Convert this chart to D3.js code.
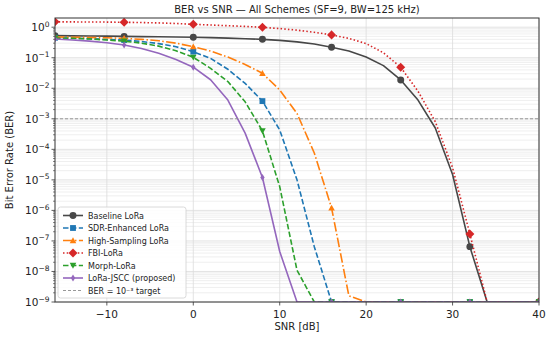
<!DOCTYPE html>
<html>
<head>
<meta charset="utf-8">
<script src="https://cdn.jsdelivr.net/npm/d3@7"></script>
<style>
  body { margin: 0; background: #fff; }
  svg { font-family: "DejaVu Sans", sans-serif; }
</style>
</head>
<body>
<svg id="chart" width="550" height="339"></svg>
<script>
// SNR points (dB)
const snr = [-16, -14, -12, -10, -8, -6, -4, -2, 0, 2, 4, 6, 8, 10, 12, 14, 16, 18, 20, 22, 24, 26, 28, 30, 32, 34, 36, 38, 40];

const baseline = [0.53, 0.52, 0.515, 0.51, 0.50, 0.49, 0.485, 0.475, 0.47, 0.455, 0.44, 0.42, 0.40, 0.37, 0.33, 0.28, 0.22, 0.165, 0.105, 0.055, 0.0187, 4.1e-3, 5e-4, 1.5e-5, 6.5e-8, 1e-9, 1e-9, 1e-9, 1e-9];
const sdr = [0.45, 0.44, 0.42, 0.40, 0.38, 0.34, 0.29, 0.23, 0.158, 0.095, 0.042, 0.0145, 3.8e-3, 4.3e-4, 1e-5, 6.5e-8, 1e-9, 1e-9, 1e-9, 1e-9, 1e-9, 1e-9, 1e-9, 1e-9, 1e-9, 1e-9, 1e-9, 1e-9, 1e-9];
const highSampling = [0.48, 0.47, 0.46, 0.45, 0.43, 0.40, 0.36, 0.30, 0.23, 0.165, 0.105, 0.06, 0.031, 8.8e-3, 1.5e-3, 7.6e-5, 1.2e-6, 1.6e-9, 1e-9, 1e-9, 1e-9, 1e-9, 1e-9, 1e-9, 1e-9, 1e-9, 1e-9, 1e-9, 1e-9];
const fbi = [1.5, 1.49, 1.48, 1.47, 1.45, 1.42, 1.38, 1.32, 1.24, 1.18, 1.12, 1.06, 0.99, 0.9, 0.8, 0.68, 0.56, 0.43, 0.29, 0.145, 0.049, 8e-3, 8e-4, 2.5e-5, 1.7e-7, 1e-9, 1e-9, 1e-9, 1e-9];
const morph = [0.44, 0.43, 0.41, 0.38, 0.35, 0.30, 0.24, 0.17, 0.103, 0.045, 0.0166, 3.6e-3, 4e-4, 6e-6, 1.1e-8, 1e-9, 1e-9, 1e-9, 1e-9, 1e-9, 1e-9, 1e-9, 1e-9, 1e-9, 1e-9, 1e-9, 1e-9, 1e-9, 1e-9];
const jscc = [0.41, 0.38, 0.35, 0.31, 0.26, 0.20, 0.14, 0.088, 0.049, 0.019, 4.1e-3, 3.4e-4, 1.2e-5, 4.5e-8, 1e-9, 1e-9, 1e-9, 1e-9, 1e-9, 1e-9, 1e-9, 1e-9, 1e-9, 1e-9, 1e-9, 1e-9, 1e-9, 1e-9, 1e-9];

const seriesNames = ["Baseline LoRa", "SDR-Enhanced LoRa", "High-Sampling LoRa", "FBI-LoRa", "Morph-LoRa", "LoRa-JSCC (proposed)"];
const seriesValues = [baseline, sdr, highSampling, fbi, morph, jscc];
const targetBer = 1e-3;

const xTicks = [-10, 0, 10, 20, 30, 40];
const yExponents = [0, -1, -2, -3, -4, -5, -6, -7, -8, -9];

const styles = [
  { color: "#474747", dash: null, marker: "circle", size: 38 },
  { color: "#1f77b4", dash: "5.5,2.4", marker: "square", size: 34 },
  { color: "#ff7f0e", dash: "9.6,2.4,1.5,2.4", marker: "triUp", size: 30 },
  { color: "#d62728", dash: "1.5,2.2", marker: "diamond", size: 52 },
  { color: "#2ca02c", dash: "5.5,2.4", marker: "triDown", size: 30 },
  { color: "#9467bd", dash: null, marker: "thinDiamond", size: 34 }
];

const W = 550, H = 339;
const margin = { top: 18, right: 11, bottom: 37, left: 55 };
const width = W - margin.left - margin.right,
      height = H - margin.top - margin.bottom;

const svg = d3.select("#chart");
const g = svg.append("g").attr("transform", "translate(" + margin.left + "," + margin.top + ")");

const x = d3.scaleLinear().domain([-16, 40]).range([0, width]);
const y = d3.scaleLog().domain([1e-9, 2]).range([height, 0]);

// grid
const minorVals = [];
for (let e = -9; e <= 0; e++) {
  for (let m = 2; m <= 9; m++) {
    const v = m * Math.pow(10, e);
    if (v < 2) minorVals.push(v);
  }
}
g.append("g").selectAll("line").data(minorVals).join("line")
  .attr("x1", 0).attr("x2", width)
  .attr("y1", d => y(d)).attr("y2", d => y(d))
  .attr("stroke", "#e8e8e8").attr("stroke-width", 0.7);
g.append("g").selectAll("line").data(yExponents).join("line")
  .attr("x1", 0).attr("x2", width)
  .attr("y1", d => y(Math.pow(10, d))).attr("y2", d => y(Math.pow(10, d)))
  .attr("stroke", "#dcdcdc").attr("stroke-width", 0.8);
g.append("g").selectAll("line").data(xTicks).join("line")
  .attr("x1", d => x(d)).attr("x2", d => x(d))
  .attr("y1", 0).attr("y2", height)
  .attr("stroke", "#dcdcdc").attr("stroke-width", 0.8);

// clip
svg.append("defs").append("clipPath").attr("id", "plotClip")
  .append("rect").attr("x", 0).attr("y", 0).attr("width", width).attr("height", height);

const plot = g.append("g").attr("clip-path", "url(#plotClip)");

function markerPath(type, size) {
  const r = Math.sqrt(size) / 2;
  if (type === "circle") return d3.symbol(d3.symbolCircle, size)();
  if (type === "square") return d3.symbol(d3.symbolSquare, size)();
  if (type === "diamond") {
    const a = r * 1.25;
    return "M0," + (-a) + "L" + a + ",0L0," + a + "L" + (-a) + ",0Z";
  }
  if (type === "thinDiamond") {
    const a = r * 1.2, b = r * 0.75;
    return "M0," + (-a) + "L" + b + ",0L0," + a + "L" + (-b) + ",0Z";
  }
  if (type === "triUp") {
    const a = r * 1.2;
    return "M0," + (-a) + "L" + a + "," + (a * 0.8) + "L" + (-a) + "," + (a * 0.8) + "Z";
  }
  if (type === "triDown") {
    const a = r * 1.2;
    return "M0," + a + "L" + a + "," + (-a * 0.8) + "L" + (-a) + "," + (-a * 0.8) + "Z";
  }
}

const line = d3.line().x(d => x(d[0])).y(d => y(d[1]));

seriesValues.forEach((vals, i) => {
  const st = styles[i];
  const pts = snr.map((s, j) => [s, vals[j]]);
  plot.append("path")
    .datum(pts)
    .attr("d", line)
    .attr("fill", "none")
    .attr("stroke", st.color)
    .attr("stroke-width", 1.6)
    .attr("stroke-dasharray", st.dash)
    .attr("stroke-linejoin", "round");
  plot.append("g").selectAll("path")
    .data(pts.filter((d, j) => j % 4 === 0))
    .join("path")
    .attr("transform", d => "translate(" + x(d[0]) + "," + y(d[1]) + ")")
    .attr("d", markerPath(st.marker, st.size))
    .attr("fill", st.color);
});

// target line
plot.append("line")
  .attr("x1", 0).attr("x2", width)
  .attr("y1", y(targetBer)).attr("y2", y(targetBer))
  .attr("stroke", "#8c8c8c").attr("stroke-width", 0.9)
  .attr("stroke-dasharray", "3,2");

// axes frame
g.append("rect").attr("x", 0).attr("y", 0).attr("width", width).attr("height", height)
  .attr("fill", "none").attr("stroke", "#333").attr("stroke-width", 1);

// x ticks
const xAxis = g.append("g").attr("transform", "translate(0," + height + ")");
xAxis.selectAll("line").data(xTicks).join("line")
  .attr("x1", d => x(d)).attr("x2", d => x(d)).attr("y1", 0).attr("y2", 3.5)
  .attr("stroke", "#333").attr("stroke-width", 0.8);
xAxis.selectAll("text").data(xTicks).join("text")
  .attr("x", d => x(d)).attr("y", 15.5)
  .attr("text-anchor", "middle").attr("font-size", 10.5).attr("fill", "#222")
  .text(d => d < 0 ? "\u2212" + Math.abs(d) : d);

// y ticks
const yAxis = g.append("g");
yAxis.selectAll("line.minor").data(minorVals).join("line")
  .attr("class", "minor")
  .attr("x1", -2).attr("x2", 0).attr("y1", d => y(d)).attr("y2", d => y(d))
  .attr("stroke", "#333").attr("stroke-width", 0.6);
yAxis.selectAll("line.major").data(yExponents).join("line")
  .attr("class", "major")
  .attr("x1", -3.5).attr("x2", 0).attr("y1", d => y(Math.pow(10, d))).attr("y2", d => y(Math.pow(10, d)))
  .attr("stroke", "#333").attr("stroke-width", 0.8);
const yLabels = yAxis.selectAll("text").data(yExponents).join("text")
  .attr("x", -5.5).attr("y", d => y(Math.pow(10, d)) + 4)
  .attr("text-anchor", "end").attr("font-size", 10.5).attr("fill", "#222");
yLabels.append("tspan").text("10");
yLabels.append("tspan").attr("dy", -4.5).attr("font-size", 7.5)
  .text(d => d < 0 ? "\u2212" + Math.abs(d) : d);

// axis labels and title
svg.append("text").attr("x", margin.left + width / 2).attr("y", 330)
  .attr("text-anchor", "middle").attr("font-size", 10).attr("fill", "#222").text("SNR [dB]");
svg.append("text")
  .attr("transform", "translate(13," + (margin.top + height / 2) + ")rotate(-90)")
  .attr("text-anchor", "middle").attr("font-size", 10).attr("fill", "#222").text("Bit Error Rate (BER)");
svg.append("text").attr("x", margin.left + width / 2).attr("y", 13)
  .attr("text-anchor", "middle").attr("font-size", 10).attr("fill", "#222")
  .text("BER vs SNR \u2014 All Schemes (SF=9, BW=125 kHz)");

// legend
const legend = svg.append("g").attr("transform", "translate(58,207)");
legend.append("rect").attr("width", 128).attr("height", 91).attr("rx", 2.5)
  .attr("fill", "#fff").attr("fill-opacity", 0.85).attr("stroke", "#d0d0d0").attr("stroke-width", 0.8);
const legendItems = seriesNames.map((n, i) => ({ name: n, st: styles[i] }));
legendItems.push({ name: "BER = 10\u207B\u00B3 target", st: { color: "#8c8c8c", dash: "3,2", marker: null, width: 0.9 } });
legendItems.forEach((it, i) => {
  const ly = 8.5 + i * 12.5;
  legend.append("line").attr("x1", 5).attr("x2", 25).attr("y1", ly).attr("y2", ly)
    .attr("stroke", it.st.color).attr("stroke-width", it.st.width || 1.6)
    .attr("stroke-dasharray", it.st.dash);
  if (it.st.marker) {
    legend.append("path").attr("transform", "translate(15," + ly + ")")
      .attr("d", markerPath(it.st.marker, it.st.size)).attr("fill", it.st.color);
  }
  legend.append("text").attr("x", 30).attr("y", ly + 3).attr("font-size", 8).attr("fill", "#222").text(it.name);
});
</script>
</body>
</html>
